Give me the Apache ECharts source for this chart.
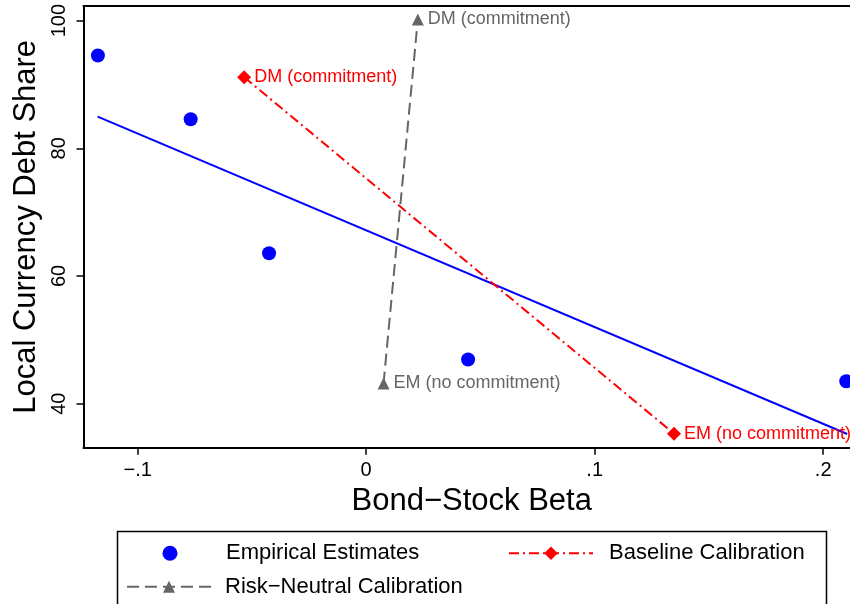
<!DOCTYPE html>
<html><head><meta charset="utf-8">
<script src="https://cdn.jsdelivr.net/npm/echarts@6/dist/echarts.min.js"></script>
<style>html,body{margin:0;padding:0;background:#fff}#c{width:850px;height:604px}</style>
</head><body><div id="c"></div>
<script>
// ---- data ----
const xTicks = [-0.1, 0, 0.1, 0.2];
const xTickLabels = ['\u2212.1', '0', '.1', '.2'];
const yTicks = [40, 60, 80, 100];
const yTickLabels = ['40', '60', '80', '100'];

const empX = [-0.1174, -0.0768, -0.0425, 0.0446, 0.2101];
const empY = [94.55, 84.55, 63.56, 46.92, 43.5];

const fitX = [-0.1175, 0.2105];
const fitY = [84.96, 35.25];

const baseX = [-0.0534, 0.1347];
const baseY = [91.15, 35.3];
const baseLabels = ['DM (commitment)', 'EM (no commitment)'];

const rnX = [0.0076, 0.0226];
const rnY = [43.16, 100.2];
const rnLabels = ['EM (no commitment)', 'DM (commitment)'];

const legendNames = ['Empirical Estimates', 'Baseline Calibration', 'Risk\u2212Neutral Calibration'];
const xName = 'Bond\u2212Stock Beta';
const yName = 'Local Currency Debt Share';

// ---- chart ----
const FONT = "'Liberation Sans', Arial, Helvetica, sans-serif";
const zip = (a, b) => a.map((v, i) => [v, b[i]]);
const fmtFrom = (ticks, labels) => v => {
  const i = ticks.findIndex(t => Math.abs(t - v) < 1e-9);
  return i >= 0 ? labels[i] : '';
};

const chart = echarts.init(document.getElementById('c'), null, {renderer: 'canvas'});
const legendText = {fontSize: 22, color: '#000', fontFamily: FONT, lineHeight: 24, padding: [0, 0, 0, 11]};

chart.setOption({
  animation: false,
  backgroundColor: '#fff',
  grid: {left: 83.5, right: -10, top: 6, bottom: 156.3, containLabel: false, outerBoundsMode: 'none'},
  xAxis: [{
    type: 'value', min: -0.1237, max: 0.2161,
    name: xName, nameLocation: 'middle', nameGap: 35,
    nameTextStyle: {fontSize: 31, color: '#000', fontFamily: FONT},
    axisLine: {show: true, onZero: false, lineStyle: {color: '#000', width: 2}},
    axisTick: {show: true, length: 7, customValues: xTicks, lineStyle: {color: '#000', width: 1.5}},
    axisLabel: {customValues: xTicks, formatter: fmtFrom(xTicks, xTickLabels), fontSize: 20, color: '#000', margin: 13, fontFamily: FONT},
    splitLine: {show: false}
  }, {
    type: 'value', position: 'top', min: -0.1237, max: 0.2161,
    axisLine: {show: true, onZero: false, lineStyle: {color: '#000', width: 2}},
    axisTick: {show: false}, axisLabel: {show: false}, splitLine: {show: false}
  }],
  yAxis: {
    type: 'value', min: 33.1, max: 102.3,
    name: yName, nameLocation: 'middle', nameGap: 40, nameRotate: 90,
    nameTextStyle: {fontSize: 31, color: '#000', fontFamily: FONT},
    axisLine: {show: true, onZero: false, lineStyle: {color: '#000', width: 2}},
    axisTick: {show: true, length: 7, customValues: yTicks, lineStyle: {color: '#000', width: 1.5}},
    axisLabel: {customValues: yTicks, formatter: fmtFrom(yTicks, yTickLabels), rotate: 90, fontSize: 20, color: '#000', margin: 14, fontFamily: FONT},
    splitLine: {show: false}
  },
  legend: [
    {data: [legendNames[0]], left: 162.5, top: 541.3, padding: 0, itemWidth: 15, itemHeight: 15, icon: 'circle',
     textStyle: Object.assign({}, legendText, {padding: [0, 0, 0, 43.5]}), selectedMode: false},
    {data: [legendNames[1]], left: 508, top: 541.3, padding: 0, itemWidth: 84, itemHeight: 17, textStyle: legendText, selectedMode: false},
    {data: [legendNames[2]], left: 126, top: 574.7, padding: 0, itemWidth: 84, itemHeight: 15, textStyle: Object.assign({}, legendText, {padding: [0, 0, 0, 9]}), selectedMode: false}
  ],
  graphic: [{
    type: 'rect', silent: true,
    shape: {x: 117.5, y: 531.5, width: 709, height: 74},
    style: {fill: 'none', stroke: '#000', lineWidth: 1.5}
  }],
  series: [
    {
      name: 'Fitted', type: 'line', data: zip(fitX, fitY), symbol: 'none',
      lineStyle: {color: '#0000ff', width: 2}, itemStyle: {color: '#0000ff'}, z: 2, silent: true
    },
    {
      name: legendNames[1], type: 'line', data: zip(baseX, baseY),
      symbol: 'diamond', symbolSize: 14, showSymbol: true,
      itemStyle: {color: '#ff0000'},
      lineStyle: {color: '#ff0000', width: 2, type: [10, 4, 2, 4]},
      label: {show: true, position: 'right', distance: 3, formatter: p => baseLabels[p.dataIndex], color: '#ff0000', fontSize: 18, fontFamily: FONT},
      z: 3
    },
    {
      name: legendNames[2], type: 'line', data: zip(rnX, rnY),
      symbol: 'triangle', symbolSize: 12, showSymbol: true,
      itemStyle: {color: '#666666'},
      lineStyle: {color: '#666666', width: 2, type: [12, 6]},
      label: {show: true, position: 'right', distance: 4, formatter: p => rnLabels[p.dataIndex], color: '#666666', fontSize: 18, fontFamily: FONT},
      z: 3
    },
    {
      name: legendNames[0], type: 'scatter', data: zip(empX, empY),
      symbol: 'circle', symbolSize: 14, itemStyle: {color: '#0000ff', opacity: 1}, z: 4
    }
  ]
});
</script>
</body></html>
